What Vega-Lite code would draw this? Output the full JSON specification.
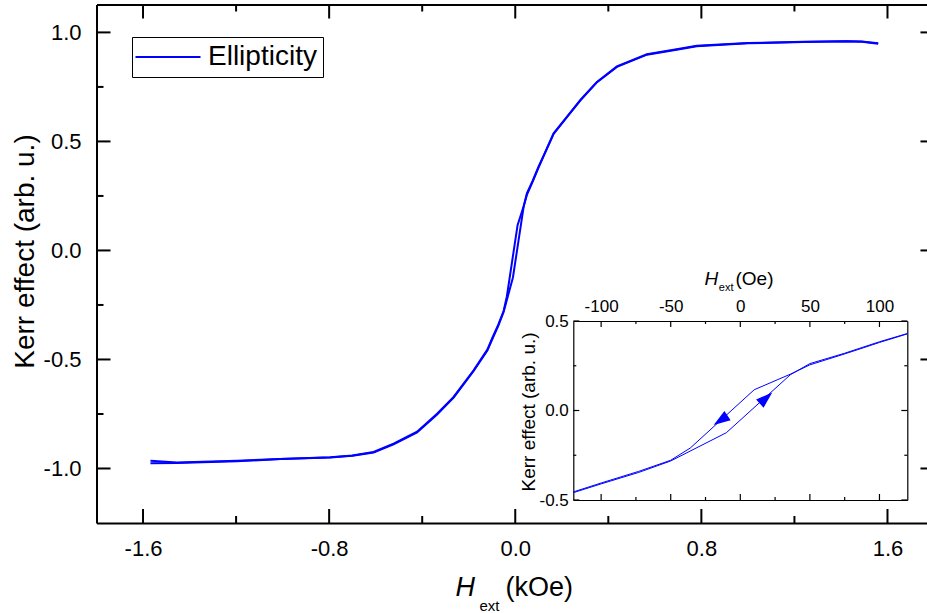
{
  "$schema": "https://vega.github.io/schema/vega-lite/v6.json",
  "width": 831,
  "height": 518.5,
  "autosize": {"type": "none"},
  "padding": {"left": 96.5, "top": 4.5, "right": 0, "bottom": 90},
  "background": "white",
  "datasets": {
    "loop": [
      {"branch": "down", "H": 1560, "Kerr": 0.948},
      {"branch": "down", "H": 1490, "Kerr": 0.957},
      {"branch": "down", "H": 1425, "Kerr": 0.959},
      {"branch": "down", "H": 1240, "Kerr": 0.956},
      {"branch": "down", "H": 1000, "Kerr": 0.95},
      {"branch": "down", "H": 780, "Kerr": 0.937},
      {"branch": "down", "H": 700, "Kerr": 0.922},
      {"branch": "down", "H": 566, "Kerr": 0.898},
      {"branch": "down", "H": 437, "Kerr": 0.842},
      {"branch": "down", "H": 350, "Kerr": 0.77},
      {"branch": "down", "H": 280, "Kerr": 0.688},
      {"branch": "down", "H": 222, "Kerr": 0.611},
      {"branch": "down", "H": 165, "Kerr": 0.535},
      {"branch": "down", "H": 120, "Kerr": 0.428},
      {"branch": "down", "H": 100, "Kerr": 0.38},
      {"branch": "down", "H": 75, "Kerr": 0.316},
      {"branch": "down", "H": 50, "Kerr": 0.255},
      {"branch": "down", "H": 36, "Kerr": 0.203},
      {"branch": "down", "H": 10, "Kerr": 0.116},
      {"branch": "down", "H": -36, "Kerr": -0.21},
      {"branch": "down", "H": -50, "Kerr": -0.278},
      {"branch": "down", "H": -73, "Kerr": -0.34},
      {"branch": "down", "H": -100, "Kerr": -0.405},
      {"branch": "down", "H": -120, "Kerr": -0.455},
      {"branch": "down", "H": -179, "Kerr": -0.55},
      {"branch": "down", "H": -265, "Kerr": -0.672},
      {"branch": "down", "H": -336, "Kerr": -0.749},
      {"branch": "down", "H": -422, "Kerr": -0.831},
      {"branch": "down", "H": -523, "Kerr": -0.886},
      {"branch": "down", "H": -609, "Kerr": -0.924},
      {"branch": "down", "H": -700, "Kerr": -0.94},
      {"branch": "down", "H": -795, "Kerr": -0.948},
      {"branch": "down", "H": -1010, "Kerr": -0.956},
      {"branch": "down", "H": -1196, "Kerr": -0.965},
      {"branch": "down", "H": -1454, "Kerr": -0.973},
      {"branch": "down", "H": -1568, "Kerr": -0.965},
      {"branch": "up", "H": -1568, "Kerr": -0.976},
      {"branch": "up", "H": -1454, "Kerr": -0.975},
      {"branch": "up", "H": -1196, "Kerr": -0.967},
      {"branch": "up", "H": -1010, "Kerr": -0.957},
      {"branch": "up", "H": -795, "Kerr": -0.95},
      {"branch": "up", "H": -700, "Kerr": -0.942},
      {"branch": "up", "H": -609, "Kerr": -0.927},
      {"branch": "up", "H": -523, "Kerr": -0.889},
      {"branch": "up", "H": -422, "Kerr": -0.835},
      {"branch": "up", "H": -336, "Kerr": -0.752},
      {"branch": "up", "H": -265, "Kerr": -0.675},
      {"branch": "up", "H": -179, "Kerr": -0.553},
      {"branch": "up", "H": -120, "Kerr": -0.459},
      {"branch": "up", "H": -100, "Kerr": -0.41},
      {"branch": "up", "H": -73, "Kerr": -0.346},
      {"branch": "up", "H": -50, "Kerr": -0.282},
      {"branch": "up", "H": -10, "Kerr": -0.124},
      {"branch": "up", "H": 36, "Kerr": 0.2},
      {"branch": "up", "H": 50, "Kerr": 0.262},
      {"branch": "up", "H": 75, "Kerr": 0.32},
      {"branch": "up", "H": 100, "Kerr": 0.384},
      {"branch": "up", "H": 120, "Kerr": 0.43},
      {"branch": "up", "H": 165, "Kerr": 0.537},
      {"branch": "up", "H": 222, "Kerr": 0.613},
      {"branch": "up", "H": 280, "Kerr": 0.69},
      {"branch": "up", "H": 350, "Kerr": 0.772},
      {"branch": "up", "H": 437, "Kerr": 0.844},
      {"branch": "up", "H": 566, "Kerr": 0.9},
      {"branch": "up", "H": 700, "Kerr": 0.924},
      {"branch": "up", "H": 780, "Kerr": 0.939},
      {"branch": "up", "H": 1000, "Kerr": 0.951},
      {"branch": "up", "H": 1240, "Kerr": 0.957},
      {"branch": "up", "H": 1425, "Kerr": 0.96},
      {"branch": "up", "H": 1490, "Kerr": 0.958},
      {"branch": "up", "H": 1560, "Kerr": 0.95}
    ],
    "arrows": [
      {"dir": "down", "H": -13.6, "Kerr": -0.052},
      {"dir": "up", "H": 18, "Kerr": 0.066}
    ],
    "ticks": [
      {"panel": "main", "dim": "x", "cls": "major", "v": -1600},
      {"panel": "main", "dim": "x", "cls": "major", "v": -800},
      {"panel": "main", "dim": "x", "cls": "major", "v": 0},
      {"panel": "main", "dim": "x", "cls": "major", "v": 800},
      {"panel": "main", "dim": "x", "cls": "major", "v": 1600},
      {"panel": "main", "dim": "x", "cls": "minor", "v": -1200},
      {"panel": "main", "dim": "x", "cls": "minor", "v": -400},
      {"panel": "main", "dim": "x", "cls": "minor", "v": 400},
      {"panel": "main", "dim": "x", "cls": "minor", "v": 1200},
      {"panel": "main", "dim": "y", "cls": "major", "v": -1},
      {"panel": "main", "dim": "y", "cls": "major", "v": -0.5},
      {"panel": "main", "dim": "y", "cls": "major", "v": 0},
      {"panel": "main", "dim": "y", "cls": "major", "v": 0.5},
      {"panel": "main", "dim": "y", "cls": "major", "v": 1},
      {"panel": "main", "dim": "y", "cls": "minor", "v": -0.75},
      {"panel": "main", "dim": "y", "cls": "minor", "v": -0.25},
      {"panel": "main", "dim": "y", "cls": "minor", "v": 0.25},
      {"panel": "main", "dim": "y", "cls": "minor", "v": 0.75},
      {"panel": "inset", "dim": "x", "cls": "major", "v": -100},
      {"panel": "inset", "dim": "x", "cls": "major", "v": -50},
      {"panel": "inset", "dim": "x", "cls": "major", "v": 0},
      {"panel": "inset", "dim": "x", "cls": "major", "v": 50},
      {"panel": "inset", "dim": "x", "cls": "major", "v": 100},
      {"panel": "inset", "dim": "x", "cls": "minor", "v": -75},
      {"panel": "inset", "dim": "x", "cls": "minor", "v": -25},
      {"panel": "inset", "dim": "x", "cls": "minor", "v": 25},
      {"panel": "inset", "dim": "x", "cls": "minor", "v": 75},
      {"panel": "inset", "dim": "y", "cls": "major", "v": -0.5},
      {"panel": "inset", "dim": "y", "cls": "major", "v": 0},
      {"panel": "inset", "dim": "y", "cls": "major", "v": 0.5},
      {"panel": "inset", "dim": "y", "cls": "minor", "v": -0.25},
      {"panel": "inset", "dim": "y", "cls": "minor", "v": 0.25}
    ]
  },
  "config": {
    "view": {"stroke": null},
    "axis": {
      "grid": false,
      "labelFont": "Liberation Sans",
      "titleFont": "Liberation Sans",
      "labelColor": "black",
      "titleColor": "black",
      "domainColor": "black",
      "tickColor": "black",
      "titleFontWeight": "normal",
      "labelFlush": false,
      "labelOverlap": false
    }
  },
  "resolve": {
    "scale": {"x": "independent", "y": "independent"},
    "axis": {"x": "independent", "y": "independent"}
  },
  "layer": [
    {
      "data": {"name": "loop"},
      "mark": {"type": "line", "strokeWidth": 2},
      "encoding": {
        "x": {"field": "H", "type": "quantitative",
          "scale": {"domain": [-1800, 1772], "range": [0, 831], "nice": false, "zero": false},
          "axis": {"orient": "bottom", "values": [-1600, -800, 0, 800, 1600],
            "ticks": false, "domain": true, "domainWidth": 2,
            "labelExpr": "replace(format(datum.value / 1000, '.1f'), '\u2212', '-')",
            "labelFontSize": 22, "labelPadding": 32, "labelBaseline": "alphabetic", "labelAlign": "center",
            "title": "(kOe)", "titleFontSize": 27,
            "titleX": 408.5, "titleY": 72, "titleAlign": "left", "titleBaseline": "alphabetic"}},
        "y": {"field": "Kerr", "type": "quantitative",
          "scale": {"domain": [-1.25, 1.128], "range": [518.5, 0], "nice": false, "zero": false},
          "axis": {"orient": "left", "values": [-1, -0.5, 0, 0.5, 1],
            "ticks": false, "domain": true, "domainWidth": 2,
            "labelExpr": "replace(format(datum.value, '.1f'), '\u2212', '-')",
            "labelFontSize": 22, "labelPadding": 15.5, "labelAlign": "right", "labelBaseline": "middle",
            "title": "Kerr effect (arb. u.)", "titleFontSize": 28, "titleAngle": -90,
            "titleX": -63.5, "titleY": 246.5, "titleAlign": "center", "titleBaseline": "alphabetic"}},
        "detail": {"field": "branch"},
        "color": {"datum": "Ellipticity", "type": "nominal",
          "scale": {"range": ["#0000ff"]},
          "legend": {"orient": "none", "legendX": 35.5, "legendY": 32.5, "title": null,
            "strokeColor": "black", "padding": 6,
            "symbolType": "M-6.5,0H6.5", "symbolSize": 100, "symbolStrokeWidth": 2,
            "symbolStrokeColor": "#0000ff", "symbolFillColor": "transparent",
            "symbolOffset": 16,
            "labelFont": "Liberation Sans", "labelFontSize": 28, "labelColor": "black",
            "labelOffset": 26, "labelLimit": 300}}
      }
    },
    {
      "data": {"name": "ticks"},
      "transform": [{"filter": "datum.panel === 'main' && datum.dim === 'x' && datum.cls === 'major'"}],
      "mark": {"type": "rule", "strokeWidth": 2, "color": "black"},
      "encoding": {
        "x": {"field": "v", "type": "quantitative",
          "scale": {"domain": [-1800, 1772], "range": [0, 831], "nice": false, "zero": false},
          "axis": {"orient": "bottom", "labels": false, "ticks": false, "domain": false,
            "title": "H", "titleFontStyle": "italic", "titleFontSize": 27,
            "titleX": 358.5, "titleY": 72, "titleAlign": "left", "titleBaseline": "alphabetic"}},
        "y": {"datum": -1.25, "type": "quantitative",
          "scale": {"domain": [-1.25, 1.128], "range": [518.5, 0], "nice": false, "zero": false}, "axis": null},
        "y2": {"datum": -1.1858}
      }
    },
    {
      "data": {"name": "ticks"},
      "transform": [{"filter": "datum.panel === 'main' && datum.dim === 'x' && datum.cls === 'minor'"}],
      "mark": {"type": "rule", "strokeWidth": 2, "color": "black"},
      "encoding": {
        "x": {"field": "v", "type": "quantitative",
          "scale": {"domain": [-1800, 1772], "range": [0, 831], "nice": false, "zero": false},
          "axis": {"orient": "bottom", "labels": false, "ticks": false, "domain": false,
            "title": "ext", "titleFontSize": 15,
            "titleX": 382.5, "titleY": 87, "titleAlign": "left", "titleBaseline": "alphabetic"}},
        "y": {"datum": -1.25, "type": "quantitative",
          "scale": {"domain": [-1.25, 1.128], "range": [518.5, 0], "nice": false, "zero": false}, "axis": null},
        "y2": {"datum": -1.2179}
      }
    },
    {
      "data": {"name": "ticks"},
      "transform": [{"filter": "datum.panel === 'main' && datum.dim === 'x' && datum.cls === 'major'"}],
      "mark": {"type": "rule", "strokeWidth": 2, "color": "black"},
      "encoding": {
        "x": {"field": "v", "type": "quantitative",
          "scale": {"domain": [-1800, 1772], "range": [0, 831], "nice": false, "zero": false},
          "axis": {"orient": "top", "labels": false, "ticks": false, "domain": true, "domainWidth": 2, "title": null}},
        "y": {"datum": 1.128, "type": "quantitative",
          "scale": {"domain": [-1.25, 1.128], "range": [518.5, 0], "nice": false, "zero": false}, "axis": null},
        "y2": {"datum": 1.0638}
      }
    },
    {
      "data": {"name": "ticks"},
      "transform": [{"filter": "datum.panel === 'main' && datum.dim === 'x' && datum.cls === 'minor'"}],
      "mark": {"type": "rule", "strokeWidth": 2, "color": "black"},
      "encoding": {
        "x": {"field": "v", "type": "quantitative",
          "scale": {"domain": [-1800, 1772], "range": [0, 831], "nice": false, "zero": false}, "axis": null},
        "y": {"datum": 1.128, "type": "quantitative",
          "scale": {"domain": [-1.25, 1.128], "range": [518.5, 0], "nice": false, "zero": false}, "axis": null},
        "y2": {"datum": 1.0959}
      }
    },
    {
      "data": {"name": "ticks"},
      "transform": [{"filter": "datum.panel === 'main' && datum.dim === 'y' && datum.cls === 'major'"}],
      "mark": {"type": "rule", "strokeWidth": 2, "color": "black"},
      "encoding": {
        "y": {"field": "v", "type": "quantitative",
          "scale": {"domain": [-1.25, 1.128], "range": [518.5, 0], "nice": false, "zero": false}, "axis": null},
        "x": {"datum": -1800, "type": "quantitative",
          "scale": {"domain": [-1800, 1772], "range": [0, 831], "nice": false, "zero": false}, "axis": null},
        "x2": {"datum": -1739.8}
      }
    },
    {
      "data": {"name": "ticks"},
      "transform": [{"filter": "datum.panel === 'main' && datum.dim === 'y' && datum.cls === 'minor'"}],
      "mark": {"type": "rule", "strokeWidth": 2, "color": "black"},
      "encoding": {
        "y": {"field": "v", "type": "quantitative",
          "scale": {"domain": [-1.25, 1.128], "range": [518.5, 0], "nice": false, "zero": false}, "axis": null},
        "x": {"datum": -1800, "type": "quantitative",
          "scale": {"domain": [-1800, 1772], "range": [0, 831], "nice": false, "zero": false}, "axis": null},
        "x2": {"datum": -1769.9}
      }
    },
    {
      "data": {"name": "ticks"},
      "transform": [{"filter": "datum.panel === 'main' && datum.dim === 'y' && datum.cls === 'major'"}],
      "mark": {"type": "rule", "strokeWidth": 2, "color": "black"},
      "encoding": {
        "y": {"field": "v", "type": "quantitative",
          "scale": {"domain": [-1.25, 1.128], "range": [518.5, 0], "nice": false, "zero": false},
          "axis": {"orient": "right", "offset": 7, "labels": false, "ticks": false,
            "domain": true, "domainWidth": 2, "title": null}},
        "x": {"datum": 1802, "type": "quantitative",
          "scale": {"domain": [-1800, 1772], "range": [0, 831], "nice": false, "zero": false}, "axis": null},
        "x2": {"datum": 1741.8}
      }
    },
    {
      "data": {"name": "loop"},
      "transform": [{"filter": {"field": "H", "range": [-120, 120]}}],
      "mark": {"type": "line", "strokeWidth": 1, "color": "#0000ff"},
      "encoding": {
        "x": {"field": "H", "type": "quantitative",
          "scale": {"domain": [-120, 120], "range": [476.8, 810.8], "nice": false, "zero": false},
          "axis": {"orient": "top", "offset": -316.5, "values": [-100, -50, 0, 50, 100],
            "ticks": false, "domain": true, "domainWidth": 1.2,
            "labelExpr": "replace(format(datum.value, 'd'), '\u2212', '-')",
            "labelFontSize": 17, "labelPadding": 9.3, "labelBaseline": "alphabetic", "labelAlign": "center",
            "title": "(Oe)", "titleFontSize": 19,
            "titleX": 638.5, "titleY": -37, "titleAlign": "left", "titleBaseline": "alphabetic"}},
        "y": {"field": "Kerr", "type": "quantitative",
          "scale": {"domain": [-0.5, 0.5], "range": [495.5, 316.5], "nice": false, "zero": false},
          "axis": {"orient": "left", "offset": -476.8, "values": [-0.5, 0, 0.5],
            "ticks": false, "domain": true, "domainWidth": 1.2,
            "labelExpr": "replace(format(datum.value, '.1f'), '\u2212', '-')",
            "labelFontSize": 17, "labelPadding": 5, "labelAlign": "right", "labelBaseline": "middle",
            "title": "Kerr effect (arb. u.)", "titleFontSize": 19, "titleAngle": -90,
            "titleX": -38.5, "titleY": 407, "titleAlign": "center", "titleBaseline": "alphabetic"}},
        "detail": {"field": "branch"}
      }
    },
    {
      "data": {"name": "ticks"},
      "transform": [{"filter": "datum.panel === 'inset' && datum.dim === 'x' && datum.cls === 'major'"}],
      "mark": {"type": "tick", "orient": "vertical", "size": 6, "thickness": 1.2, "yOffset": 3, "color": "black", "opacity": 1},
      "encoding": {
        "x": {"field": "v", "type": "quantitative",
          "scale": {"domain": [-120, 120], "range": [476.8, 810.8], "nice": false, "zero": false},
          "axis": {"orient": "top", "offset": -316.5, "labels": false, "ticks": false, "domain": false,
            "title": "H", "titleFontStyle": "italic", "titleFontSize": 19,
            "titleX": 607.5, "titleY": -37, "titleAlign": "left", "titleBaseline": "alphabetic"}},
        "y": {"datum": 0.5, "type": "quantitative",
          "scale": {"domain": [-0.5, 0.5], "range": [495.5, 316.5], "nice": false, "zero": false}, "axis": null}
      }
    },
    {
      "data": {"name": "ticks"},
      "transform": [{"filter": "datum.panel === 'inset' && datum.dim === 'x' && datum.cls === 'minor'"}],
      "mark": {"type": "tick", "orient": "vertical", "size": 3, "thickness": 1.2, "yOffset": 1.5, "color": "black", "opacity": 1},
      "encoding": {
        "x": {"field": "v", "type": "quantitative",
          "scale": {"domain": [-120, 120], "range": [476.8, 810.8], "nice": false, "zero": false},
          "axis": {"orient": "top", "offset": -316.5, "labels": false, "ticks": false, "domain": false,
            "title": "ext", "titleFontSize": 11,
            "titleX": 621.8, "titleY": -31, "titleAlign": "left", "titleBaseline": "alphabetic"}},
        "y": {"datum": 0.5, "type": "quantitative",
          "scale": {"domain": [-0.5, 0.5], "range": [495.5, 316.5], "nice": false, "zero": false}, "axis": null}
      }
    },
    {
      "data": {"name": "ticks"},
      "transform": [{"filter": "datum.panel === 'inset' && datum.dim === 'x' && datum.cls === 'major'"}],
      "mark": {"type": "tick", "orient": "vertical", "size": 6, "thickness": 1.2, "yOffset": -3, "color": "black", "opacity": 1},
      "encoding": {
        "x": {"field": "v", "type": "quantitative",
          "scale": {"domain": [-120, 120], "range": [476.8, 810.8], "nice": false, "zero": false},
          "axis": {"orient": "bottom", "offset": -23, "labels": false, "ticks": false,
            "domain": true, "domainWidth": 1.2, "title": null}},
        "y": {"datum": -0.5, "type": "quantitative",
          "scale": {"domain": [-0.5, 0.5], "range": [495.5, 316.5], "nice": false, "zero": false}, "axis": null}
      }
    },
    {
      "data": {"name": "ticks"},
      "transform": [{"filter": "datum.panel === 'inset' && datum.dim === 'x' && datum.cls === 'minor'"}],
      "mark": {"type": "tick", "orient": "vertical", "size": 3, "thickness": 1.2, "yOffset": -1.5, "color": "black", "opacity": 1},
      "encoding": {
        "x": {"field": "v", "type": "quantitative",
          "scale": {"domain": [-120, 120], "range": [476.8, 810.8], "nice": false, "zero": false}, "axis": null},
        "y": {"datum": -0.5, "type": "quantitative",
          "scale": {"domain": [-0.5, 0.5], "range": [495.5, 316.5], "nice": false, "zero": false}, "axis": null}
      }
    },
    {
      "data": {"name": "ticks"},
      "transform": [{"filter": "datum.panel === 'inset' && datum.dim === 'y' && datum.cls === 'major'"}],
      "mark": {"type": "tick", "orient": "horizontal", "size": 6, "thickness": 1.2, "xOffset": 3, "color": "black", "opacity": 1},
      "encoding": {
        "y": {"field": "v", "type": "quantitative",
          "scale": {"domain": [-0.5, 0.5], "range": [495.5, 316.5], "nice": false, "zero": false}, "axis": null},
        "x": {"datum": -120, "type": "quantitative",
          "scale": {"domain": [-120, 120], "range": [476.8, 810.8], "nice": false, "zero": false}, "axis": null}
      }
    },
    {
      "data": {"name": "ticks"},
      "transform": [{"filter": "datum.panel === 'inset' && datum.dim === 'y' && datum.cls === 'minor'"}],
      "mark": {"type": "tick", "orient": "horizontal", "size": 3, "thickness": 1.2, "xOffset": 1.5, "color": "black", "opacity": 1},
      "encoding": {
        "y": {"field": "v", "type": "quantitative",
          "scale": {"domain": [-0.5, 0.5], "range": [495.5, 316.5], "nice": false, "zero": false}, "axis": null},
        "x": {"datum": -120, "type": "quantitative",
          "scale": {"domain": [-120, 120], "range": [476.8, 810.8], "nice": false, "zero": false}, "axis": null}
      }
    },
    {
      "data": {"name": "ticks"},
      "transform": [{"filter": "datum.panel === 'inset' && datum.dim === 'y' && datum.cls === 'major'"}],
      "mark": {"type": "tick", "orient": "horizontal", "size": 6, "thickness": 1.2, "xOffset": -3, "color": "black", "opacity": 1},
      "encoding": {
        "y": {"field": "v", "type": "quantitative",
          "scale": {"domain": [-0.5, 0.5], "range": [495.5, 316.5], "nice": false, "zero": false},
          "axis": {"orient": "right", "offset": -20.2, "labels": false, "ticks": false,
            "domain": true, "domainWidth": 1.2, "title": null}},
        "x": {"datum": 120, "type": "quantitative",
          "scale": {"domain": [-120, 120], "range": [476.8, 810.8], "nice": false, "zero": false}, "axis": null}
      }
    },
    {
      "data": {"name": "ticks"},
      "transform": [{"filter": "datum.panel === 'inset' && datum.dim === 'y' && datum.cls === 'minor'"}],
      "mark": {"type": "tick", "orient": "horizontal", "size": 3, "thickness": 1.2, "xOffset": -1.5, "color": "black", "opacity": 1},
      "encoding": {
        "y": {"field": "v", "type": "quantitative",
          "scale": {"domain": [-0.5, 0.5], "range": [495.5, 316.5], "nice": false, "zero": false}, "axis": null},
        "x": {"datum": 120, "type": "quantitative",
          "scale": {"domain": [-120, 120], "range": [476.8, 810.8], "nice": false, "zero": false}, "axis": null}
      }
    },
    {
      "data": {"name": "arrows"},
      "transform": [{"filter": "datum.dir === 'down'"}],
      "mark": {"type": "point", "shape": "M0,-1L0.6,0.8L-0.6,0.8Z", "filled": true, "opacity": 1,
        "color": "#0000ff", "size": 344, "angle": 236},
      "encoding": {
        "x": {"field": "H", "type": "quantitative",
          "scale": {"domain": [-120, 120], "range": [476.8, 810.8], "nice": false, "zero": false}, "axis": null},
        "y": {"field": "Kerr", "type": "quantitative",
          "scale": {"domain": [-0.5, 0.5], "range": [495.5, 316.5], "nice": false, "zero": false}, "axis": null}
      }
    },
    {
      "data": {"name": "arrows"},
      "transform": [{"filter": "datum.dir === 'up'"}],
      "mark": {"type": "point", "shape": "M0,-1L0.6,0.8L-0.6,0.8Z", "filled": true, "opacity": 1,
        "color": "#0000ff", "size": 344, "angle": 48},
      "encoding": {
        "x": {"field": "H", "type": "quantitative",
          "scale": {"domain": [-120, 120], "range": [476.8, 810.8], "nice": false, "zero": false}, "axis": null},
        "y": {"field": "Kerr", "type": "quantitative",
          "scale": {"domain": [-0.5, 0.5], "range": [495.5, 316.5], "nice": false, "zero": false}, "axis": null}
      }
    }
  ]
}
